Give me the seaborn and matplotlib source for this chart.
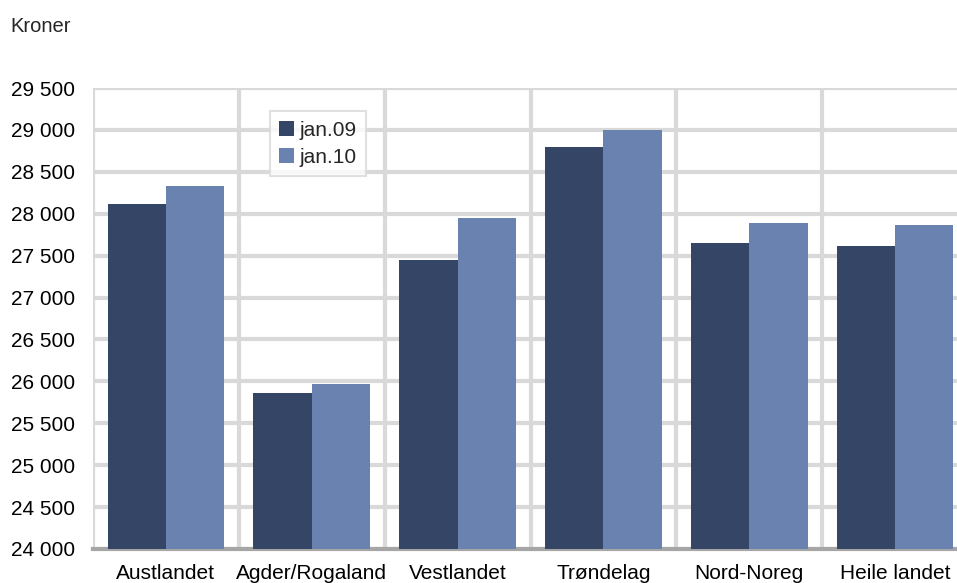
import pandas as pd
import seaborn as sns
import matplotlib.pyplot as plt
import numpy as np
from matplotlib.ticker import FixedLocator, FuncFormatter

# Data
regions = ['Austlandet', 'Agder/Rogaland', 'Vestlandet', 'Trøndelag', 'Nord-Noreg', 'Heile landet']
jan09 = [28120, 25860, 27450, 28800, 27645, 27610]
jan10 = [28335, 25965, 27950, 29000, 27885, 27860]
series = ['jan.09', 'jan.10']
colors = ['#344566', '#6a82b0']

df = pd.DataFrame({'region': regions * 2,
                   'period': [series[0]] * len(regions) + [series[1]] * len(regions),
                   'kroner': jan09 + jan10})

sns.set_style('white')
plt.rcParams['font.family'] = ['Liberation Sans', 'DejaVu Sans']

fig = plt.figure(figsize=(9.57, 5.83), dpi=100)
ax = fig.add_axes([93/957, 34/583, 875/957, 461/583])

sns.barplot(data=df, x='region', y='kroner', hue='period', palette=colors,
            saturation=1, width=0.8, ax=ax, zorder=3, linewidth=0, edgecolor='none')

ax.set_ylim(24000, 29500)
ax.set_xlim(-0.5, 5.5)
ax.set_yticks(np.arange(24000, 29501, 500))
ax.yaxis.set_major_formatter(FuncFormatter(lambda v, p: f'{int(v):,}'.replace(',', ' ')))
ax.xaxis.set_minor_locator(FixedLocator(np.arange(-0.5, 6, 1)))

ax.grid(axis='y', which='major', color='#d9d9d9', linewidth=3, zorder=0)
ax.grid(axis='x', which='minor', color='#d9d9d9', linewidth=3, zorder=0)
ax.set_axisbelow(True)

for s in ['top', 'right', 'left']:
    ax.spines[s].set_visible(False)
ax.spines['bottom'].set_color('#a6a6a6')
ax.spines['bottom'].set_linewidth(3)

ax.tick_params(axis='both', which='both', length=0, labelsize=15, colors='black')
ax.tick_params(axis='y', pad=13)
ax.tick_params(axis='x', pad=11)
ax.set_xlabel('')
ax.set_ylabel('')

leg = ax.legend(loc='upper left', bbox_to_anchor=(0.19, 0.972), fontsize=15,
                frameon=True, fancybox=False, handlelength=0.7, handleheight=0.7,
                handletextpad=0.3, borderpad=0.45, labelspacing=0.4)
leg.get_frame().set_edgecolor('#d9d9d9')
leg.get_frame().set_linewidth(1.5)

fig.text(10/957, 1 - 27/583, 'Kroner', fontsize=14.5, va='center', ha='left')

fig.savefig('out.png', dpi=100)
